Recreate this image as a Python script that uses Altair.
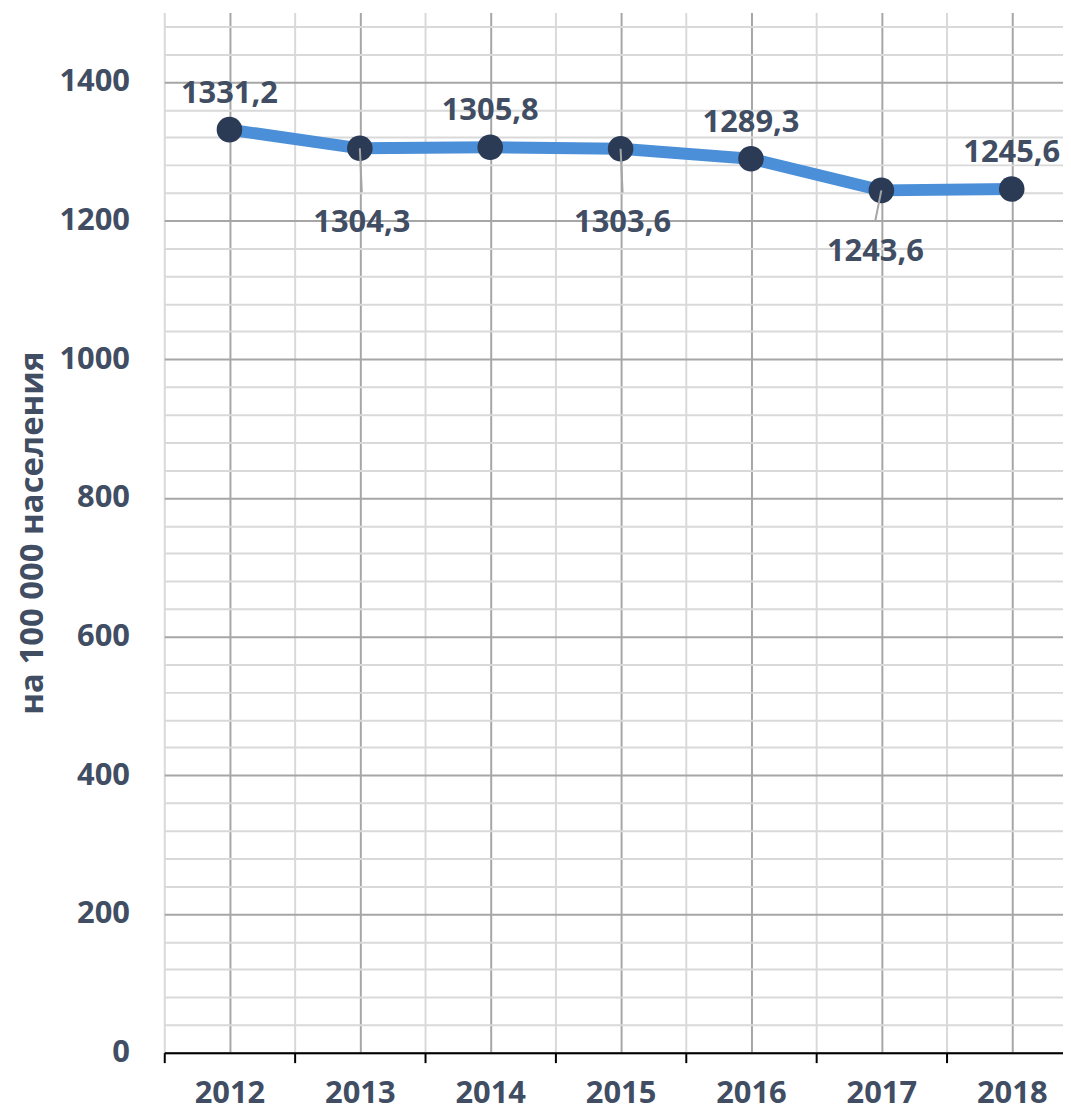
import altair as alt
import pandas as pd

years = [2012, 2013, 2014, 2015, 2016, 2017, 2018]
values = [1331.2, 1304.3, 1305.8, 1303.6, 1289.3, 1243.6, 1245.6]
label_side = ["above", "below", "above", "below", "above", "below_short", "above"]
y_title = "на 100 000 населения"

labels = [f"{v:.1f}".replace(".", ",") for v in values]
df = pd.DataFrame({"year": years, "value": values, "label": labels, "side": label_side})

TEXT = "#404d63"
FONT = "Open Sans"
LIGHT = "#d9d9d9"
DARK = "#a6a6a6"

x_ticks = [y - 0.5 for y in years] + years
y_ticks = list(range(0, 1481, 40))

x_enc = alt.X(
    "year:Q",
    scale=alt.Scale(domain=[2011.5, 2011.5 + 903 / 131.0], nice=False, zero=False),
    axis=alt.Axis(
        title=None,
        values=x_ticks,
        labelExpr="datum.value % 1 == 0 ? format(datum.value, 'd') : ''",
        labelFont=FONT, labelFontSize=31, labelFontWeight="bold", labelColor=TEXT,
        labelPadding=16, labelFlush=False, labelOverlap=False,
        domainColor="black", domainWidth=2,
        ticks=True, tickSize=10, tickColor="black", tickWidth=2,
        tickOpacity={"condition": {"test": "datum.value % 1 == 0", "value": 0}, "value": 1},
        grid=True, gridWidth=2,
        gridColor={"condition": {"test": "datum.value % 1 == 0", "value": DARK}, "value": LIGHT},
    ),
)
y_enc = alt.Y(
    "value:Q",
    scale=alt.Scale(domain=[0, 1500], nice=False),
    axis=alt.Axis(
        title=y_title,
        titleFont=FONT, titleFontSize=33, titleFontWeight="bold", titleColor=TEXT,
        titleX=-122, titleBaseline="alphabetic",
        values=y_ticks,
        labelExpr="datum.value % 200 == 0 ? format(datum.value, 'd') : ''",
        labelFont=FONT, labelFontSize=31, labelFontWeight="bold", labelColor=TEXT,
        labelPadding=35, labelFlush=False, labelOverlap=False,
        domain=False, ticks=False, tickSize=0,
        grid=True, gridWidth=2,
        gridColor={"condition": {"test": "datum.value % 200 == 0", "value": DARK}, "value": LIGHT},
    ),
)

base = alt.Chart(df).encode(x=x_enc, y=y_enc)

line = base.mark_line(color="#4a8fd8", strokeWidth=12, strokeJoin="round")
points = base.mark_circle(color="#2b3a55", opacity=1, size=660)

leader_below = base.transform_filter("datum.side == 'below'").mark_rule(
    color="#a6a6a6", strokeWidth=2, y2Offset=44, x2Offset=2
).encode(x2="year:Q", y2="value:Q")
leader_short = base.transform_filter("datum.side == 'below_short'").mark_rule(
    color="#a6a6a6", strokeWidth=2, y2Offset=30, x2Offset=-6
).encode(x2="year:Q", y2="value:Q")

txt = dict(font=FONT, fontSize=31, fontWeight="bold", color=TEXT, baseline="alphabetic", align="center")
lab_above = base.transform_filter("datum.side == 'above'").mark_text(dy=-27, **txt).encode(text="label:N")
lab_below = base.transform_filter("datum.side == 'below'").mark_text(dy=84, dx=2, **txt).encode(text="label:N")
lab_short = base.transform_filter("datum.side == 'below_short'").mark_text(dy=71, dx=-6, **txt).encode(text="label:N")

chart = alt.layer(line, points, leader_below, leader_short, lab_above, lab_below, lab_short).properties(
    width=903,
    height=1045,
    padding={"left": 157, "top": 2, "right": 0, "bottom": 58},
    autosize=alt.AutoSizeParams(type="none"),
).configure_view(stroke=None)

chart.save("out.html", embed_options={"renderer": "svg", "actions": False})
